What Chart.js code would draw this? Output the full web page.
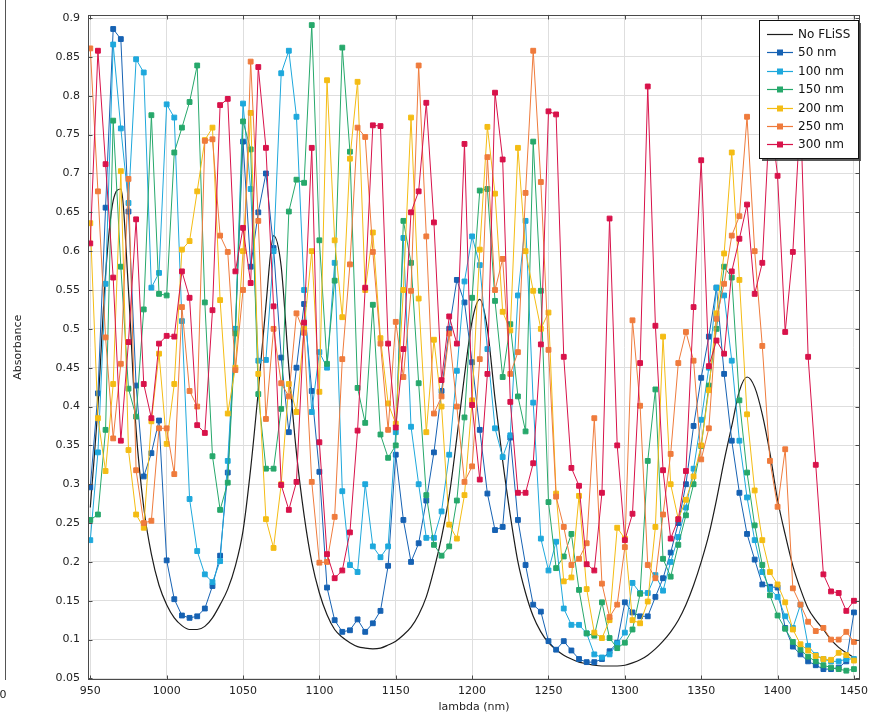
<!DOCTYPE html>
<html>
<head>
<meta charset="utf-8">
<title>Absorbance spectra</title>
<script src="https://cdn.jsdelivr.net/npm/chart.js@4.4.1/dist/chart.umd.min.js"></script>
<style>
  html, body { margin: 0; padding: 0; background: #fff; }
  #wrap { width: 873px; height: 717px; }
</style>
</head>
<body>
<div id="wrap"><canvas id="absChart" width="873" height="717"></canvas></div>
<script>
// wavelength grid (nm)
const lambda = [
  950, 955, 960, 965, 970, 975, 980, 985, 990, 995,
  1000, 1005, 1010, 1015, 1020, 1025, 1030, 1035, 1040, 1045,
  1050, 1055, 1060, 1065, 1070, 1075, 1080, 1085, 1090, 1095,
  1100, 1105, 1110, 1115, 1120, 1125, 1130, 1135, 1140, 1145,
  1150, 1155, 1160, 1165, 1170, 1175, 1180, 1185, 1190, 1195,
  1200, 1205, 1210, 1215, 1220, 1225, 1230, 1235, 1240, 1245,
  1250, 1255, 1260, 1265, 1270, 1275, 1280, 1285, 1290, 1295,
  1300, 1305, 1310, 1315, 1320, 1325, 1330, 1335, 1340, 1345,
  1350, 1355, 1360, 1365, 1370, 1375, 1380, 1385, 1390, 1395,
  1400, 1405, 1410, 1415, 1420, 1425, 1430, 1435, 1440, 1445,
  1450
];

const noFliss = [
  0.27, 0.40, 0.57, 0.665, 0.68, 0.55, 0.37, 0.27, 0.21, 0.17,
  0.145, 0.128, 0.118, 0.113, 0.113, 0.117, 0.128, 0.145, 0.165, 0.195,
  0.24, 0.32, 0.42, 0.53, 0.62, 0.58, 0.45, 0.34, 0.26, 0.2,
  0.16, 0.132, 0.113, 0.103, 0.096, 0.091, 0.089, 0.088, 0.089, 0.093,
  0.098, 0.106, 0.116, 0.132, 0.155, 0.19, 0.232, 0.285, 0.36, 0.44,
  0.51, 0.538, 0.5, 0.41, 0.33, 0.26, 0.2, 0.16, 0.13, 0.11,
  0.096, 0.087, 0.08, 0.075, 0.071, 0.069, 0.067, 0.066, 0.066, 0.066,
  0.067, 0.07, 0.074, 0.08, 0.088, 0.098, 0.11, 0.125, 0.145, 0.17,
  0.2, 0.235, 0.28, 0.33, 0.375, 0.42, 0.438, 0.425, 0.39, 0.34,
  0.28, 0.235, 0.195, 0.165, 0.14, 0.125, 0.113, 0.1, 0.09, 0.083,
  0.077
];

const abs50 = [
  0.296, 0.417, 0.656, 0.886, 0.873, 0.651, 0.427, 0.31, 0.34, 0.382,
  0.202, 0.152, 0.131, 0.128, 0.13, 0.14, 0.169, 0.208, 0.315, 0.5,
  0.741, 0.58, 0.65, 0.70, 0.604, 0.463, 0.367, 0.45, 0.532, 0.42,
  0.316, 0.167, 0.125, 0.11, 0.112, 0.126, 0.11, 0.121, 0.137, 0.195,
  0.338, 0.254, 0.2, 0.224, 0.279, 0.341, 0.42, 0.5, 0.563, 0.534,
  0.457, 0.37, 0.288, 0.241, 0.245, 0.36, 0.254, 0.196, 0.145, 0.136,
  0.098, 0.087, 0.098, 0.086, 0.075, 0.071, 0.071, 0.075, 0.085, 0.096,
  0.148, 0.135, 0.13, 0.13, 0.155, 0.179, 0.212, 0.25, 0.3, 0.375,
  0.437, 0.49, 0.553, 0.442, 0.356, 0.289, 0.236, 0.203, 0.171, 0.168,
  0.167, 0.115, 0.091, 0.081, 0.072, 0.067, 0.062, 0.062, 0.064, 0.072,
  0.135
];

const abs100 = [
  0.228, 0.341, 0.558, 0.866, 0.758, 0.662, 0.847, 0.83, 0.553, 0.572,
  0.789, 0.772, 0.51, 0.281, 0.214, 0.184, 0.174, 0.201, 0.33, 0.5,
  0.79, 0.68, 0.459, 0.46, 0.6, 0.829, 0.858, 0.773, 0.55, 0.393,
  0.47, 0.45, 0.585, 0.291, 0.196, 0.187, 0.30, 0.22, 0.206, 0.22,
  0.367, 0.617, 0.374, 0.3, 0.231, 0.231, 0.265, 0.338, 0.446, 0.561,
  0.619, 0.582, 0.474, 0.372, 0.335, 0.363, 0.543, 0.639, 0.405, 0.23,
  0.189, 0.226, 0.14, 0.119, 0.119, 0.108, 0.081, 0.077, 0.081, 0.095,
  0.109, 0.173, 0.16, 0.16, 0.183, 0.163, 0.2, 0.232, 0.27, 0.32,
  0.383, 0.45, 0.553, 0.543, 0.459, 0.356, 0.283, 0.228, 0.187, 0.165,
  0.155, 0.13, 0.115, 0.145, 0.092, 0.08, 0.075, 0.072, 0.072, 0.075,
  0.075
];

const abs150 = [
  0.254, 0.261, 0.37, 0.768, 0.58, 0.423, 0.387, 0.525, 0.775, 0.545,
  0.543, 0.727, 0.759, 0.792, 0.839, 0.534, 0.336, 0.267, 0.302, 0.494,
  0.767, 0.731, 0.416, 0.32, 0.32, 0.397, 0.651, 0.692, 0.688, 0.891,
  0.614, 0.455, 0.562, 0.862, 0.728, 0.424, 0.379, 0.531, 0.364, 0.334,
  0.35, 0.639, 0.585, 0.43, 0.286, 0.222, 0.208, 0.22, 0.279, 0.386,
  0.54, 0.678, 0.68, 0.536, 0.438, 0.506, 0.413, 0.368, 0.741, 0.549,
  0.277, 0.192, 0.207, 0.236, 0.164, 0.108, 0.105, 0.148, 0.102, 0.089,
  0.096, 0.113, 0.159, 0.33, 0.422, 0.204, 0.181, 0.222, 0.26, 0.3,
  0.349, 0.427, 0.5, 0.58, 0.566, 0.408, 0.315, 0.247, 0.196, 0.157,
  0.131, 0.114, 0.097, 0.087, 0.078, 0.072, 0.067, 0.064, 0.062, 0.06,
  0.062
];

const abs200 = [
  0.636, 0.385, 0.317, 0.429, 0.703, 0.344, 0.261, 0.244, 0.381, 0.468,
  0.352, 0.429, 0.602, 0.613, 0.677, 0.743, 0.759, 0.537, 0.391, 0.45,
  0.6, 0.778, 0.442, 0.255, 0.218, 0.3, 0.429, 0.393, 0.5, 0.6,
  0.419, 0.82, 0.614, 0.515, 0.719, 0.818, 0.55, 0.624, 0.488, 0.404,
  0.378, 0.55, 0.772, 0.539, 0.367, 0.486, 0.40, 0.248, 0.23, 0.286,
  0.408, 0.602, 0.76, 0.674, 0.522, 0.498, 0.733, 0.6, 0.549, 0.5,
  0.521, 0.288, 0.175, 0.18, 0.285, 0.165, 0.109, 0.102, 0.125, 0.244,
  0.23, 0.125, 0.121, 0.149, 0.245, 0.49, 0.3, 0.255, 0.28, 0.31,
  0.35, 0.421, 0.52, 0.597, 0.727, 0.563, 0.39, 0.292, 0.228, 0.187,
  0.171, 0.148, 0.113, 0.094, 0.086, 0.079, 0.075, 0.074, 0.083, 0.08,
  0.073
];

const abs250 = [
  0.861, 0.677, 0.489, 0.359, 0.455, 0.693, 0.318, 0.25, 0.253, 0.372,
  0.372, 0.313, 0.528, 0.42, 0.4, 0.742, 0.744, 0.62, 0.599, 0.447,
  0.55, 0.844, 0.639, 0.384, 0.5, 0.43, 0.413, 0.52, 0.495, 0.303,
  0.199, 0.2, 0.258, 0.461, 0.583, 0.759, 0.747, 0.599, 0.481, 0.37,
  0.509, 0.438, 0.549, 0.839, 0.619, 0.391, 0.413, 0.494, 0.4, 0.303,
  0.323, 0.461, 0.721, 0.55, 0.59, 0.442, 0.47, 0.675, 0.858, 0.689,
  0.473, 0.284, 0.245, 0.196, 0.204, 0.224, 0.385, 0.172, 0.129, 0.145,
  0.219, 0.511, 0.401, 0.196, 0.179, 0.261, 0.339, 0.456, 0.496, 0.459,
  0.332, 0.372, 0.513, 0.558, 0.62, 0.645, 0.773, 0.6, 0.478, 0.33,
  0.271, 0.345, 0.166, 0.145, 0.123, 0.111, 0.115, 0.1, 0.1, 0.11,
  0.097
];

const abs300 = [
  0.61, 0.858, 0.712, 0.566, 0.356, 0.483, 0.641, 0.429, 0.385, 0.481,
  0.491, 0.49, 0.574, 0.54, 0.376, 0.366, 0.524, 0.788, 0.796, 0.574,
  0.63, 0.559, 0.837, 0.733, 0.529, 0.299, 0.267, 0.303, 0.508, 0.733,
  0.354, 0.21, 0.179, 0.189, 0.238, 0.369, 0.553, 0.762, 0.761, 0.481,
  0.373, 0.474, 0.65, 0.677, 0.791, 0.637, 0.434, 0.516, 0.481, 0.738,
  0.402, 0.306, 0.442, 0.804, 0.718, 0.406, 0.289, 0.289, 0.327, 0.48,
  0.78, 0.776, 0.464, 0.321, 0.298, 0.197, 0.189, 0.289, 0.642, 0.35,
  0.228, 0.262, 0.456, 0.812, 0.504, 0.318, 0.23, 0.255, 0.317, 0.528,
  0.717, 0.452, 0.485, 0.468, 0.574, 0.616, 0.66, 0.545, 0.585, 0.78,
  0.697, 0.496, 0.599, 0.78, 0.464, 0.325, 0.184, 0.162, 0.16, 0.137,
  0.15
];

const xTicks = [950, 1000, 1050, 1100, 1150, 1200, 1250, 1300, 1350, 1400, 1450];
const yTicks = [0.05, 0.1, 0.15, 0.2, 0.25, 0.3, 0.35, 0.4, 0.45, 0.5, 0.55,
                0.6, 0.65, 0.7, 0.75, 0.8, 0.85, 0.9];

const seriesNames = ['No FLiSS', '50 nm', '100 nm', '150 nm', '200 nm', '250 nm', '300 nm'];
const seriesColors = ['#1c1c1c', '#1662b3', '#1ea8dc', '#26a86b', '#f4bc14', '#ef7b3c', '#d8124a'];
const seriesValues = [noFliss, abs50, abs100, abs150, abs200, abs250, abs300];

const toPoints = vals => vals.map((v, i) => ({ x: lambda[i], y: v }));

const datasets = seriesValues.map((vals, i) => {
  const isRef = i === 0;
  return {
    label: seriesNames[i],
    data: toPoints(vals),
    borderColor: seriesColors[i],
    backgroundColor: seriesColors[i],
    borderWidth: isRef ? 1.2 : 1,
    pointStyle: 'rect',
    pointRadius: isRef ? 0 : 3.4,
    pointBorderWidth: 1,
    pointBackgroundColor: seriesColors[i],
    pointBorderColor: seriesColors[i],
    tension: isRef ? 0.4 : 0,
    cubicInterpolationMode: isRef ? 'monotone' : 'default',
    order: seriesValues.length - i
  };
});

// box around the plot with inward tick marks on every side
const framePlugin = {
  id: 'frame',
  afterDatasetsDraw(chart) {
    const { ctx, chartArea: a, scales } = chart;
    ctx.save();
    ctx.strokeStyle = '#4a4a4a';
    ctx.lineWidth = 1;
    const l = Math.round(a.left) + 0.5, r = Math.round(a.right) - 0.5;
    const t = Math.round(a.top) + 0.5, b = Math.round(a.bottom) - 0.5;
    ctx.strokeRect(l, t, r - l, b - t);
    ctx.beginPath();
    xTicks.forEach(v => {
      const px = Math.round(scales.x.getPixelForValue(v)) + 0.5;
      ctx.moveTo(px, b); ctx.lineTo(px, b - 4);
      ctx.moveTo(px, t); ctx.lineTo(px, t + 4);
    });
    yTicks.forEach(v => {
      const py = Math.round(scales.y.getPixelForValue(v)) + 0.5;
      ctx.moveTo(l, py); ctx.lineTo(l + 4, py);
      ctx.moveTo(r, py); ctx.lineTo(r - 4, py);
    });
    ctx.stroke();
    ctx.restore();
  }
};

// boxed legend with a drop shadow in the upper right corner
const legendBox = {
  id: 'legendBox',
  afterDraw(chart) {
    const ctx = chart.ctx;
    const x0 = 759, y0 = 20, w = 99, h = 138;
    ctx.save();
    ctx.fillStyle = 'rgba(60,60,60,0.85)';
    ctx.fillRect(x0 + 3, y0 + 3, w, h);
    ctx.fillStyle = '#ffffff';
    ctx.fillRect(x0, y0, w, h);
    ctx.strokeStyle = '#111';
    ctx.lineWidth = 1;
    ctx.strokeRect(x0 + 0.5, y0 + 0.5, w, h);
    ctx.font = '12px "DejaVu Sans", sans-serif';
    ctx.textBaseline = 'middle';
    chart.data.datasets.forEach((ds, i) => {
      const yy = Math.round(34 + i * 18.4) + 0.5;
      ctx.strokeStyle = ds.borderColor;
      ctx.lineWidth = 1.2;
      ctx.beginPath();
      ctx.moveTo(767, yy);
      ctx.lineTo(793, yy);
      ctx.stroke();
      if (ds.pointRadius > 0) {
        ctx.fillStyle = ds.borderColor;
        ctx.fillRect(777, yy - 3, 6, 6);
      }
      ctx.fillStyle = '#111';
      ctx.fillText(ds.label, 798, yy);
    });
    ctx.restore();
  }
};

// edge of the neighbouring panel at the far left
const edgePlugin = {
  id: 'edge',
  afterDraw(chart) {
    const ctx = chart.ctx;
    ctx.save();
    ctx.strokeStyle = '#555';
    ctx.lineWidth = 1;
    ctx.beginPath();
    ctx.moveTo(5.5, 0);
    ctx.lineTo(5.5, 680);
    ctx.stroke();
    ctx.fillStyle = '#222';
    ctx.font = '11px "DejaVu Sans", sans-serif';
    ctx.textAlign = 'center';
    ctx.textBaseline = 'middle';
    ctx.fillText('0', 3, 695);
    ctx.restore();
  }
};

const tickFont = { family: '"DejaVu Sans", sans-serif', size: 11 };

const config = {
  type: 'line',
  data: { datasets: datasets },
  options: {
    responsive: false,
    animation: false,
    layout: { padding: { top: 9, right: 7, left: 0, bottom: 0 } },
    plugins: {
      legend: { display: false },
      tooltip: { enabled: false }
    },
    scales: {
      x: {
        type: 'linear',
        min: 948.5,
        max: 1454,
        afterFit: s => { s.height = 37; },
        afterBuildTicks: s => { s.ticks = xTicks.map(v => ({ value: v })); },
        grid: { color: '#dedede', lineWidth: 1, drawTicks: false },
        border: { display: false },
        ticks: {
          font: tickFont,
          color: '#222',
          padding: 5,
          maxRotation: 0,
          callback: v => String(v)
        },
        title: {
          display: true,
          text: 'lambda (nm)',
          font: tickFont,
          color: '#222',
          padding: { top: 0, bottom: 3 }
        }
      },
      y: {
        type: 'linear',
        min: 0.048,
        max: 0.9045,
        afterFit: s => { s.width = 88; },
        afterBuildTicks: s => { s.ticks = yTicks.map(v => ({ value: v })); },
        grid: { color: '#dedede', lineWidth: 1, drawTicks: false },
        border: { display: false },
        ticks: {
          font: tickFont,
          color: '#222',
          padding: 8,
          callback: v => String(Math.round(v * 100) / 100)
        },
        title: {
          display: true,
          text: 'Absorbance',
          font: tickFont,
          color: '#222',
          padding: { top: 12, bottom: 0 }
        }
      }
    }
  },
  plugins: [framePlugin, legendBox, edgePlugin]
};

const absChart = new Chart(document.getElementById('absChart').getContext('2d'), config);
</script>
</body>
</html>
